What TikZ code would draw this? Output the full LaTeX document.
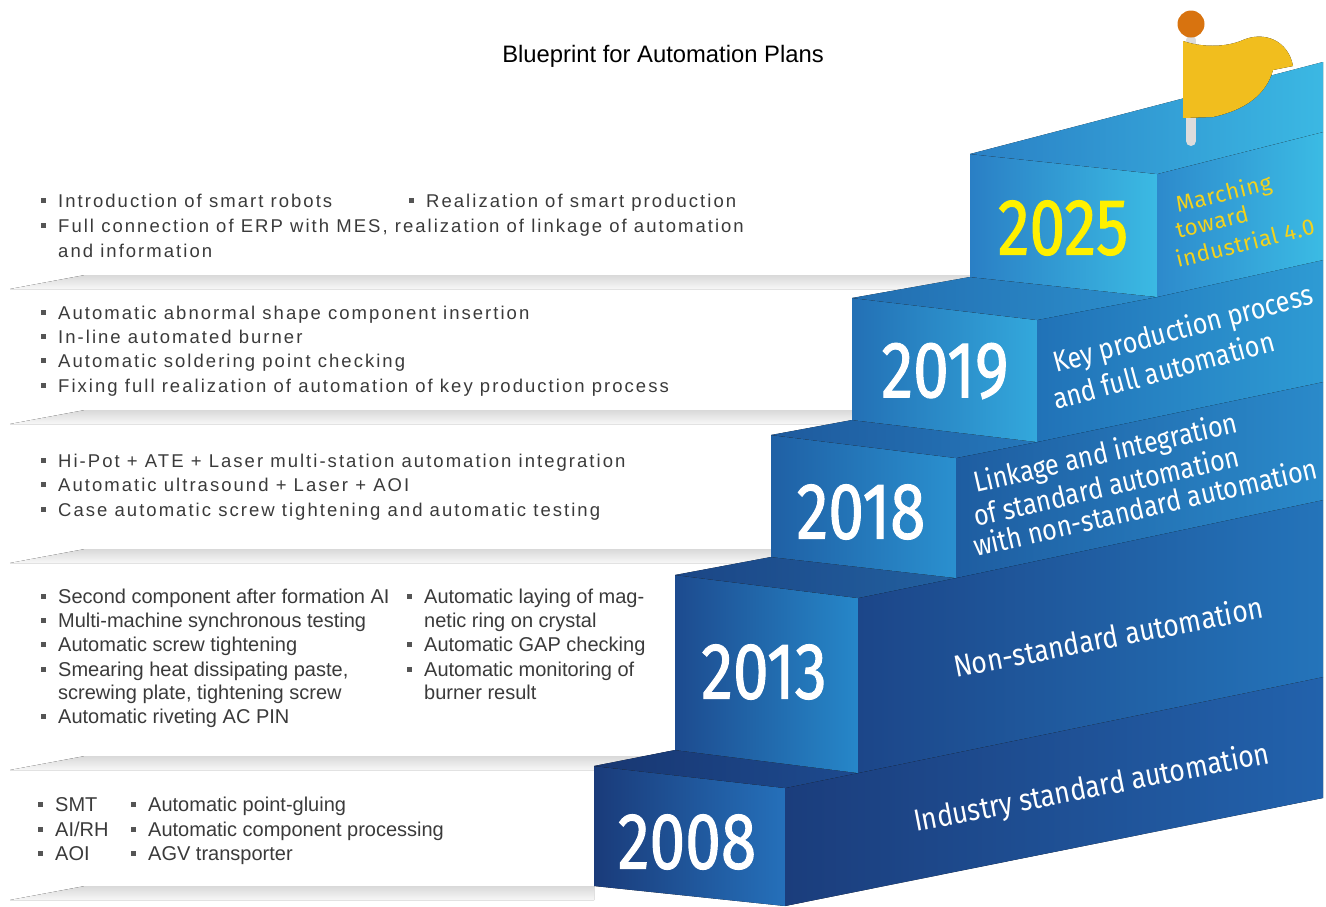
\documentclass[tikz,border=0pt]{standalone}
\usepackage{fontspec}
\setmainfont{Liberation Sans}
\newfontfamily\spacedfont[LetterSpace=11]{Liberation Sans}
\newfontfamily\yearfont[FakeStretch=0.8,FakeBold=1.2]{Fira Sans}
\newfontfamily\stepfont[FakeStretch=0.87]{Fira Sans}
\newfontfamily\goalfont[LetterSpace=3]{Fira Sans}
\usetikzlibrary{calc}

\definecolor{txtgray}{HTML}{3A3A3A}
\definecolor{bulgray}{HTML}{555555}
\definecolor{goldyellow}{HTML}{F3D21C}
\definecolor{yearyellow}{HTML}{FFF000}
\definecolor{flagdark}{HTML}{F1BE1E}
\definecolor{flaglight}{HTML}{F6EC36}
\definecolor{ballorange}{HTML}{D8730F}
\definecolor{polegray}{HTML}{DCDCDC}
% step colours, left / right
\definecolor{frontAl}{HTML}{1A3B7A}\definecolor{frontAr}{HTML}{2570BA}
\definecolor{sideAl}{HTML}{1B3D7C}\definecolor{sideAr}{HTML}{2262AC}
\definecolor{topAl}{HTML}{183772}\definecolor{topAr}{HTML}{1D4A8E}
\definecolor{frontBl}{HTML}{1D4B8F}\definecolor{frontBr}{HTML}{2687C9}
\definecolor{sideBl}{HTML}{1C4689}\definecolor{sideBr}{HTML}{2474BA}
\definecolor{topBl}{HTML}{1B4686}\definecolor{topBr}{HTML}{22609F}
\definecolor{frontCl}{HTML}{1F60A5}\definecolor{frontCr}{HTML}{2A90CF}
\definecolor{sideCl}{HTML}{1E5DA1}\definecolor{sideCr}{HTML}{2A8ACA}
\definecolor{topCl}{HTML}{1E5A9D}\definecolor{topCr}{HTML}{2577BA}
\definecolor{frontDl}{HTML}{2370B5}\definecolor{frontDr}{HTML}{33A8DC}
\definecolor{sideDl}{HTML}{2172B7}\definecolor{sideDr}{HTML}{2E9BD4}
\definecolor{topDl}{HTML}{226DB0}\definecolor{topDr}{HTML}{2C8FCC}
\definecolor{frontEl}{HTML}{2A7FC5}\definecolor{frontEr}{HTML}{3BBAE3}
\definecolor{sideEl}{HTML}{2D8ACC}\definecolor{sideEr}{HTML}{3BBBE4}
\definecolor{topEl}{HTML}{2A80C5}\definecolor{topEr}{HTML}{3BB8E3}

\def\bitem#1(#2,#3)#4#5{\fill[bulgray] (#2-17.5,#3-9.5) rectangle ++(5,5); \node[#4] (#1) at (#2,#3) {#5};}

\begin{document}
\begin{tikzpicture}[x=1pt,y=-1pt,
  item/.style={anchor=base west, inner sep=0pt, text=txtgray},
  wide/.style={item, font=\spacedfont\fontsize{18.5}{20}\selectfont},
  narrow/.style={item, font=\fontsize{20}{24}\selectfont},
  steplabel/.style={anchor=base west, inner sep=0pt, text=white, font=\stepfont\fontsize{29}{32}\selectfont},
  goal/.style={anchor=base west, inner sep=0pt, text=goldyellow, font=\goalfont\fontsize{22.5}{24}\selectfont},
  year/.style={inner sep=0pt, font=\yearfont\fontsize{80}{80}\selectfont},
  band/.style={top color=black!15, bottom color=black!3, draw=none}]
	\useasboundingbox (0,0) rectangle (1326,906);
	\clip (0,0) rectangle (1326,906);
	
	\node[font=\fontsize{23.8}{26}\selectfont, text=black] (title) at (663,56) {Blueprint for Automation Plans};
	
	%%%%% shelf shadows %%%%%
	\fill[band] (10,289) -- (85,275) -- (970,275) -- (970,289) -- cycle;
	\fill[band] (10,424) -- (85,410) -- (852,410) -- (852,424) -- cycle;
	\fill[band] (10,563) -- (85,549) -- (771,549) -- (771,563) -- cycle;
	\fill[band] (10,770) -- (85,756) -- (675,756) -- (675,770) -- cycle;
	\fill[band] (10,900) -- (85,886) -- (594,886) -- (594,900) -- cycle;
	
	%%%%% steps %%%%%
	% 2008
	\fill[left color=frontAl, right color=frontAr] (594,766) -- (785,788) -- (785,906) -- (594,886) -- cycle;
	\fill[left color=sideAl, right color=sideAr] (785,788) -- (1323,677) -- (1323,798) -- (785,906) -- cycle;
	\fill[left color=topAl, right color=topAr] (594,766) -- (785,788) -- (858,773) -- (675,750) -- cycle;
	% 2013
	\fill[left color=frontBl, right color=frontBr] (675,575) -- (858,598) -- (858,773) -- (675,750) -- cycle;
	\fill[left color=sideBl, right color=sideBr] (858,598) -- (1323,500) -- (1323,677) -- (858,773) -- cycle;
	\fill[left color=topBl, right color=topBr] (675,575) -- (858,598) -- (956,578) -- (771,557) -- cycle;
	% 2018
	\fill[left color=frontCl, right color=frontCr] (771,435) -- (956,458) -- (956,578) -- (771,557) -- cycle;
	\fill[left color=sideCl, right color=sideCr] (956,458) -- (1323,382) -- (1323,500) -- (956,578) -- cycle;
	\fill[left color=topCl, right color=topCr] (771,435) -- (956,458) -- (1037,442) -- (852,420) -- cycle;
	% 2019
	\fill[left color=frontDl, right color=frontDr] (852,298) -- (1037,320) -- (1037,442) -- (852,420) -- cycle;
	\fill[left color=sideDl, right color=sideDr] (1037,320) -- (1323,260) -- (1323,382) -- (1037,442) -- cycle;
	\fill[left color=topDl, right color=topDr] (852,298) -- (1037,320) -- (1157,297) -- (970,277) -- cycle;
	% 2025
	\fill[left color=frontEl, right color=frontEr] (970,154) -- (1157,174) -- (1157,297) -- (970,277) -- cycle;
	\fill[left color=sideEl, right color=sideEr] (1157,174) -- (1323,132) -- (1323,260) -- (1157,297) -- cycle;
	\fill[left color=topEl, right color=topEr] (970,154) -- (1157,174) -- (1323,132) -- (1323,62) -- cycle;
	
	%%%%% flag %%%%%
	\draw[line width=10pt, line cap=round, color=polegray] (1191,40) -- (1191,141);
	\fill[color=ballorange] (1191,24) circle (13.5);
	\fill[left color=flagdark, middle color=flaglight, right color=flagdark]
		(1183,41) .. controls (1200,47) and (1225,48) .. (1243,40)
		.. controls (1264,31) and (1288,40) .. (1293,66) -- (1273,70)
		.. controls (1266,95) and (1245,110) .. (1213,117) -- (1183,118) -- cycle;
	
	%%%%% years %%%%%
	\node[year, text=white] (y2008) at (687,842) {2008};
	\node[year, text=white] (y2013) at (764,672) {2013};
	\node[year, text=white] (y2018) at (861,512) {2018};
	\node[year, text=white] (y2019) at (945,371) {2019};
	\node[year, text=yearyellow] (y2025) at (1063,228) {2025};
	
	\node[steplabel, font=\stepfont\fontsize{30.5}{32}\selectfont, rotate=11] (l2008) at (916,832) {Industry standard automation};
	\node[steplabel, font=\stepfont\fontsize{30.5}{32}\selectfont, rotate=11] (l2013) at (956,678) {Non-standard automation};
	\node[steplabel, rotate=13] (l2018a) at (976,493) {Linkage and integration};
	\node[steplabel, rotate=13] (l2018b) at (976,527) {of standard automation};
	\node[steplabel, rotate=13] (l2018c) at (976,557) {with non-standard automation};
	\node[steplabel, rotate=15] (l2019a) at (1056,373) {Key production process};
	\node[steplabel, rotate=15] (l2019b) at (1056,410) {and full automation};
	\node[goal, rotate=14] (l2025a) at (1178,213) {Marching};
	\node[goal, rotate=14] (l2025b) at (1178,239) {toward};
	\node[goal, rotate=14] (l2025c) at (1178,268) {industrial 4.0};
	
	%%%%% bullet lists %%%%%
	\bitem s1a(58,207){wide}{Introduction of smart robots}
	\bitem s1b(426,207){wide}{Realization of smart production}
	\bitem s1c(58,232){wide}{Full connection of ERP with MES, realization of linkage of automation}
	\node[wide] (s1d) at (58,257) {and information};
	
	\bitem s2a(58,319){wide}{Automatic abnormal shape component insertion}
	\bitem s2b(58,343){wide}{In-line automated burner}
	\bitem s2c(58,367){wide}{Automatic soldering point checking}
	\bitem s2d(58,392){wide}{Fixing full realization of automation of key production process}
	
	\bitem s3a(58,467){wide}{Hi-Pot + ATE + Laser multi-station automation integration}
	\bitem s3b(58,491){wide}{Automatic ultrasound + Laser + AOI}
	\bitem s3c(58,516){wide}{Case automatic screw tightening and automatic testing}
	
	\bitem s4a(58,603){narrow}{Second component after formation AI}
	\bitem s4b(58,627){narrow}{Multi-machine synchronous testing}
	\bitem s4c(58,651){narrow}{Automatic screw tightening}
	\bitem s4d(58,676){narrow}{Smearing heat dissipating paste,}
	\node[narrow] (s4e) at (58,699) {screwing plate, tightening screw};
	\bitem s4f(58,723){narrow}{Automatic riveting AC PIN}
	\bitem s4g(424,603){narrow}{Automatic laying of mag-}
	\node[narrow] (s4h) at (424,627) {netic ring on crystal};
	\bitem s4i(424,651){narrow}{Automatic GAP checking}
	\bitem s4j(424,676){narrow}{Automatic monitoring of}
	\node[narrow] (s4k) at (424,699) {burner result};
	
	\bitem s5a(55,811){narrow}{SMT}
	\bitem s5b(55,836){narrow}{AI/RH}
	\bitem s5c(55,860){narrow}{AOI}
	\bitem s5d(148,811){narrow}{Automatic point-gluing}
	\bitem s5e(148,836){narrow}{Automatic component processing}
	\bitem s5f(148,860){narrow}{AGV transporter}
\end{tikzpicture}
\end{document}
